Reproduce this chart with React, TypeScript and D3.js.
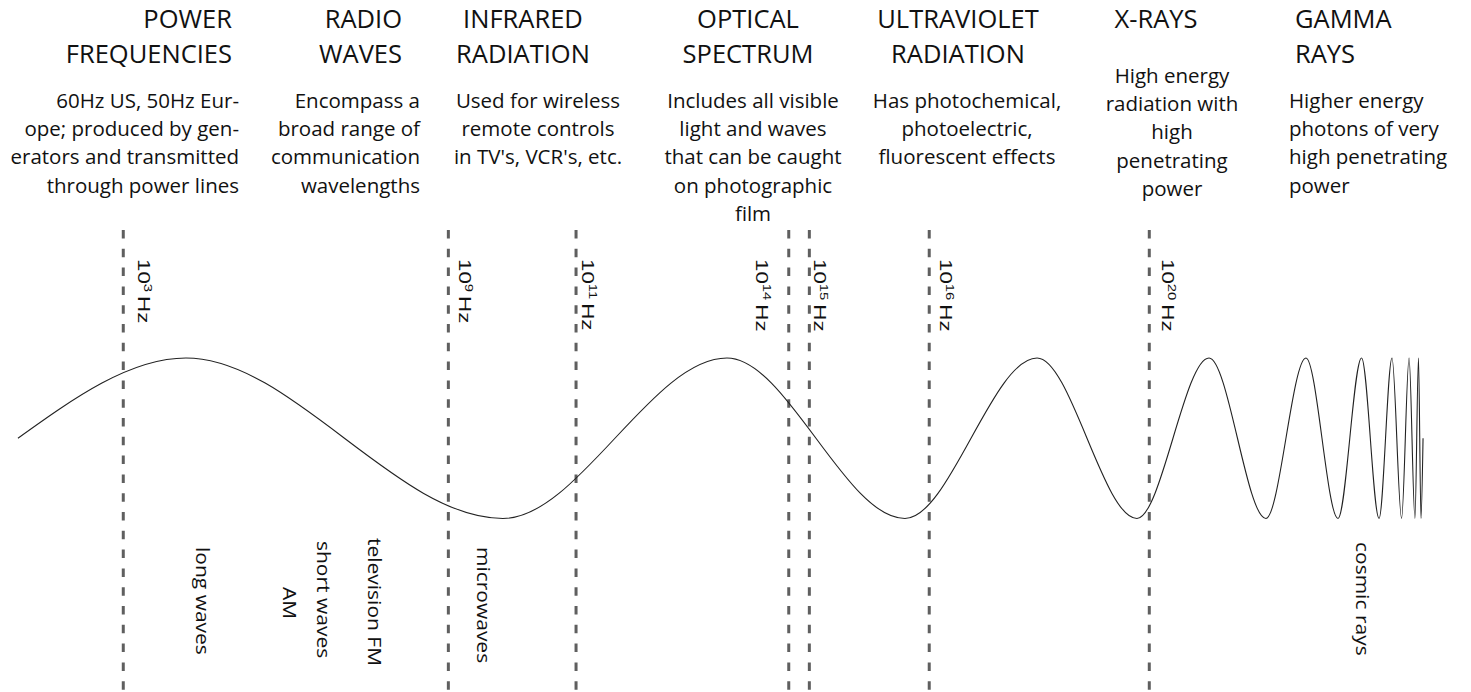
import * as d3 from 'd3';
import React from 'react';

// spectrum bands across the top
const bandTitles = [
  ['POWER', 'FREQUENCIES'],
  ['RADIO', 'WAVES'],
  ['INFRARED', 'RADIATION'],
  ['OPTICAL', 'SPECTRUM'],
  ['ULTRAVIOLET', 'RADIATION'],
  ['X-RAYS'],
  ['GAMMA', 'RAYS'],
];
const bandNotes = [
  ['60Hz US, 50Hz  Eur-', 'ope; produced by gen-', 'erators and transmitted', 'through power lines'],
  ['Encompass a', 'broad range of', 'communication', 'wavelengths'],
  ['Used for wireless', 'remote controls', "in TV's, VCR's, etc."],
  ['Includes all visible', 'light and waves', 'that can be caught', 'on photographic', 'film'],
  ['Has photochemical,', 'photoelectric,', 'fluorescent effects'],
  ['High energy', 'radiation with', 'high', 'penetrating', 'power'],
  ['Higher energy', 'photons of very', 'high penetrating', 'power'],
];

// frequency markers (exponent of 10 Hz) and where they sit along the spectrum (0-100)
const freqExponents = [3, 9, 11, 14, 15, 16, 20];
const freqPositions = [8.38, 30.48, 39.16, 53.62, 55.02, 63.17, 78.13];

// the wave: its crests and troughs along the spectrum, amplitude -1..1
const wavePositions = [1.22, 12.64, 34.19, 49.42, 61.52, 70.5, 77.29, 82.19, 86.06, 88.78, 90.96,
  92.56, 93.75, 94.63, 95.28, 95.79, 96.19, 96.43, 96.6, 96.74];
const waveAmplitudes = [0, 1, -1, 1, -1, 1, -1, 1, -1, 1, -1, 1, -1, 1, -1, 1, -1, 1, -1, 0];

// sub-band names under the wave
const subbandNames = ['long waves', 'AM', 'short waves', 'television FM', 'microwaves', 'cosmic rays'];
const subbandPositions = [13.32, 19.24, 21.55, 25.02, 32.43, 92.18];

const W = 1471;
const H = 692;
const sans = "'Open Sans', 'Noto Sans', sans-serif";

// text column layout: [title x, note x, anchor]
const columns: [number, number, string][] = [
  [232, 239, 'end'],
  [402, 420, 'end'],
  [523, 538, 'middle'],
  [748, 753, 'middle'],
  [958, 967, 'middle'],
  [1156, 1172, 'middle'],
  [1295, 1289, 'start'],
];
const freqLabelDx = [14.5, 10.5, 6, -32.5, 4.5, 10.5, 12.5];
const subbandTop = [547, 587, 541, 538, 547, 542];

export default function App() {
  const x = d3.scaleLinear().domain([0, 100]).range([0, W]);
  const y = d3.scaleLinear().domain([-1, 1]).range([518.5, 358]);

  const wave = d3.line<number>()
    .x((_, i) => x(wavePositions[i]))
    .y(d => y(d))
    .curve(d3.curveMonotoneX);

  return (
    <svg width={W} height={H} style={{ position: 'absolute', left: 0, top: 0, background: '#fff' }}>
      {/* headers */}
      {bandTitles.map((lines, i) => {
        const [tx, nx, anchor] = columns[i];
        const noteTop = lines.length === 1 ? 83 : 108;
        return (
          <g key={i} fontFamily={sans} fill="#111">
            {lines.map((t, j) => (
              <text key={j} x={tx} y={28 + j * 35} fontSize={25.5} textAnchor={anchor}>{t}</text>
            ))}
            {bandNotes[i].map((t, j) => (
              <text key={'n' + j} x={nx} y={noteTop + j * 28.2} fontSize={20.5} textAnchor={anchor}>{t}</text>
            ))}
          </g>
        );
      })}

      {/* frequency markers */}
      {freqPositions.map((p, i) => (
        <g key={i}>
          <line x1={x(p)} x2={x(p)} y1={230} y2={H} stroke="#5f5f5f" strokeWidth={3} strokeDasharray="8.5 10.3" />
          <text transform={`translate(${x(p) + freqLabelDx[i]},259) rotate(90) scale(1.35,1)`}
            fontFamily="'Liberation Sans', sans-serif" fontSize={16.5} fill="#111">
            10<tspan fontSize={11} dy={-6.5}>{freqExponents[i]}</tspan>
            <tspan dy={6.5} dx={3}>Hz</tspan>
          </text>
        </g>
      ))}

      {/* wave */}
      <path d={wave(waveAmplitudes) || ''} fill="none" stroke="#222" strokeWidth={1.1} />

      {/* sub-band labels */}
      {subbandNames.map((s, i) => (
        <text key={i} transform={`translate(${x(subbandPositions[i])},${subbandTop[i]}) rotate(90) scale(1.2,1)`}
          fontFamily={sans} fontSize={17.5} fill="#111">{s}</text>
      ))}
    </svg>
  );
}
